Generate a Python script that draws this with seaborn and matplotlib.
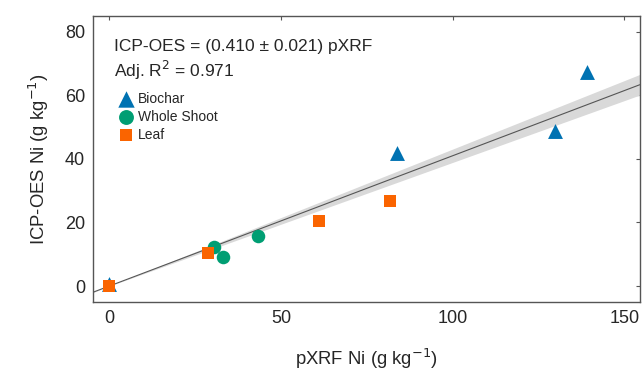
import numpy as np
import pandas as pd
import matplotlib
matplotlib.use("Agg")
import matplotlib.pyplot as plt
import seaborn as sns

# ---- data ----
biochar_x = [0.0, 83.7, 129.7, 139.0]
biochar_y = [0.5, 42.0, 48.9, 67.5]
shoot_x = [30.5, 33.1, 43.2]
shoot_y = [12.2, 9.0, 15.6]
leaf_x = [0.0, 28.8, 61.2, 81.7]
leaf_y = [0.0, 10.3, 20.5, 26.6]

slope = 0.410
slope_se = 0.021
adj_r2 = 0.971

x_ticks = [0, 50, 100, 150]
y_ticks = [0, 20, 40, 60, 80]

df = pd.DataFrame({
    "pXRF": biochar_x + shoot_x + leaf_x,
    "ICP": biochar_y + shoot_y + leaf_y,
    "Type": ["Biochar"] * len(biochar_x) + ["Whole Shoot"] * len(shoot_x) + ["Leaf"] * len(leaf_x),
})

sns.set_style("white")
plt.rcParams["font.family"] = ["Liberation Sans", "DejaVu Sans"]

fig = plt.figure(figsize=(6.43, 3.70), dpi=100)
ax = fig.add_axes([0.145, 0.184, 0.850, 0.773])

xlim = (-4.7, 154.5)
ylim = (-5.0, 85.0)
xs = np.linspace(xlim[0], xlim[1], 200)
ax.fill_between(xs, (slope - slope_se) * xs, (slope + slope_se) * xs,
                color="#d9d9d9", lw=0, zorder=1)
ax.plot(xs, slope * xs, color="#555555", lw=0.8, zorder=2)

palette = {"Biochar": "#0072B2", "Whole Shoot": "#009E73", "Leaf": "#FA6400"}
markers = {"Biochar": "^", "Whole Shoot": "o", "Leaf": "s"}
sizes = {"Biochar": 115, "Whole Shoot": 95, "Leaf": 70}
for t in ["Biochar", "Whole Shoot", "Leaf"]:
    sub = df[df["Type"] == t]
    sns.scatterplot(data=sub, x="pXRF", y="ICP", color=palette[t], marker=markers[t],
                    s=sizes[t], linewidth=0, ax=ax, label=t, zorder=3)

ax.set_xlim(*xlim)
ax.set_ylim(*ylim)
ax.set_xticks(x_ticks)
ax.set_yticks(y_ticks)
ax.tick_params(direction="in", length=3, width=0.8, color="#555555",
               top=True, right=True, labelsize=13, pad=6,
               labeltop=False, labelright=False)
for s in ax.spines.values():
    s.set_color("#555555")
    s.set_linewidth(1.0)

ax.set_xlabel("pXRF Ni (g kg$^{-1}$)", fontsize=13.3, labelpad=14)
ax.set_ylabel("ICP-OES Ni (g kg$^{-1}$)", fontsize=13.3, labelpad=10)

ax.text(0.038, 0.893, f"ICP-OES = ({slope:.3f} \u00b1 {slope_se:.3f}) pXRF",
        transform=ax.transAxes, fontsize=12.5, va="center", ha="left")
ax.text(0.038, 0.81, f"Adj. R$^{{2}}$ = {adj_r2:.3f}",
        transform=ax.transAxes, fontsize=12.5, va="center", ha="left")

leg = ax.legend(loc="upper left", bbox_to_anchor=(0.035, 0.755), frameon=False,
                fontsize=10, handletextpad=0.25, labelspacing=0.3,
                borderaxespad=0, handlelength=1.2, markerscale=1.1)

fig.savefig("out.png", dpi=100)
